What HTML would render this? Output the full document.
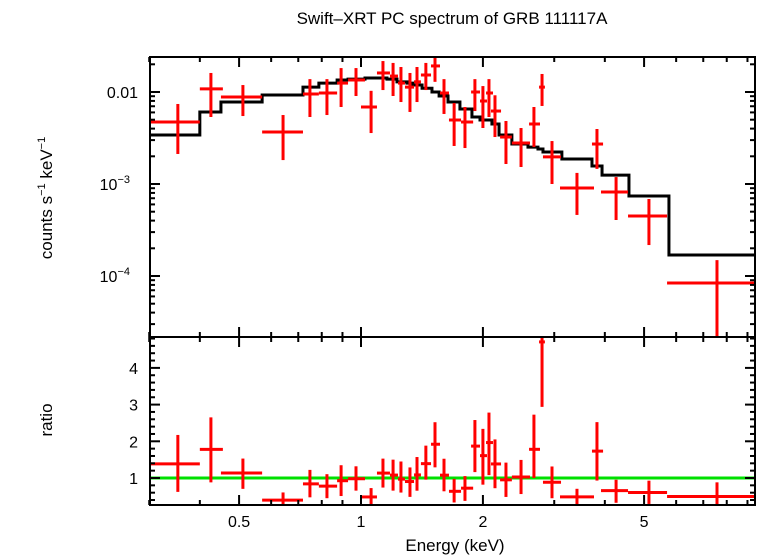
<!DOCTYPE html>
<html><head><meta charset="utf-8">
<style>
html,body{margin:0;padding:0;background:#fff;}
svg{display:block;font-family:"Liberation Sans",sans-serif;}
</style></head>
<body>
<svg id="chart" width="758" height="556" viewBox="0 0 758 556" xmlns="http://www.w3.org/2000/svg">
<text x="452" y="24" font-size="17" text-anchor="middle">Swift–XRT PC spectrum of GRB 111117A</text>
<text transform="translate(52,198) rotate(-90)" font-size="17" text-anchor="middle">counts s<tspan font-size="11" dy="-7">−1</tspan><tspan dy="7"> keV</tspan><tspan font-size="11" dy="-7">−1</tspan></text>
<text transform="translate(52,420) rotate(-90)" font-size="17" text-anchor="middle">ratio</text>
<text x="455" y="551" font-size="17" text-anchor="middle">Energy (keV)</text>
<g id="g"></g>
</svg>
<script>
// model step function
const modelEdges=[0.300,0.400,0.451,0.570,0.719,0.787,0.873,0.929,1.023,1.159,1.227,1.299,1.344,1.415,1.497,1.559,1.640,1.755,1.879,1.967,2.105,2.192,2.358,2.584,2.735,2.814,3.133,3.718,3.937,4.588,5.759,9.50];
const modelValues=[0.00341,0.00607,0.00778,0.00927,0.0113,0.0125,0.0135,0.0138,0.0142,0.0138,0.0129,0.0125,0.0119,0.0110,0.0100,0.00905,0.00778,0.00653,0.00535,0.00496,0.00449,0.00341,0.00272,0.00252,0.00240,0.00223,0.00187,0.00157,0.00125,0.000741,0.000169];
// data points
const eLo=[0.300,0.400,0.451,0.570,0.719,0.787,0.873,0.929,1.000,1.095,1.179,1.234,1.284,1.352,1.406,1.489,1.567,1.649,1.766,1.870,1.967,2.036,2.094,2.205,2.358,2.600,2.752,2.814,3.100,3.718,3.914,4.564,5.698];
const eHi=[0.400,0.456,0.570,0.719,0.787,0.873,0.929,1.023,1.095,1.179,1.234,1.284,1.352,1.406,1.489,1.567,1.649,1.766,1.892,1.967,2.047,2.118,2.217,2.358,2.614,2.767,2.845,3.118,3.761,3.960,4.564,5.698,9.50];
const eMid=[0.353,0.426,0.511,0.642,0.748,0.824,0.893,0.972,1.059,1.133,1.200,1.255,1.321,1.375,1.446,1.523,1.603,1.698,1.806,1.911,2.000,2.070,2.142,2.280,2.484,2.673,2.799,2.962,3.414,3.825,4.264,5.140,7.568];
const flux=[0.00472,0.0108,0.00883,0.00367,0.00951,0.00975,0.0125,0.0135,0.00687,0.0161,0.0149,0.0125,0.0113,0.0129,0.0153,0.0192,0.00975,0.00496,0.00472,0.0100,0.00798,0.00975,0.00621,0.00324,0.00279,0.00449,0.0113,0.00197,0.000906,0.00272,0.000819,0.000449,0.0000839];
const fluxLo=[0.00212,0.00535,0.00548,0.00182,0.00535,0.00562,0.00687,0.00905,0.00358,0.0105,0.00905,0.00778,0.00607,0.00778,0.0105,0.0129,0.00577,0.00259,0.00246,0.00621,0.00406,0.00535,0.00324,0.00165,0.00153,0.00252,0.00705,0.00100,0.000461,0.00146,0.000406,0.000217,0.0000178];
const fluxHi=[0.00741,0.0161,0.0119,0.00562,0.0138,0.0138,0.0182,0.0182,0.0103,0.0217,0.0207,0.0187,0.0161,0.0187,0.0207,0.0252,0.0138,0.00759,0.00687,0.0138,0.0116,0.0138,0.00921,0.00484,0.00406,0.00687,0.0157,0.00293,0.00132,0.00396,0.00119,0.000687,0.000149];
const xMajor=[0.5,1,2,5];
const xMinor=[0.3,0.4,0.6,0.7,0.8,0.9,3,4,6,7,8,9];
const yTopMajor=[0.01,0.001,0.0001];
const yTopLabels=["0.01","10","10"];
const yTopExp=["","−3","−4"];
const ratioMajor=[1,2,3,4];

const L=150,R=755,T1=57,B1=337,B2=505;
const X=e=>361+405*Math.log10(e);
const Y1=f=>92-92*(Math.log10(f)+2);
const Y2=r=>478-36.7*(r-1);
const NS='http://www.w3.org/2000/svg';
const g=document.getElementById('g');
function mk(tag,attrs,name){const el=document.createElementNS(NS,tag);for(const k in attrs)el.setAttribute(k,attrs[k]);


g.appendChild(el);return el;}
function modelAt(e){for(let i=0;i<modelValues.length;i++){if(e>=modelEdges[i]&&e<modelEdges[i+1])return modelValues[i];}return modelValues[modelValues.length-1];}

// clip paths
const defs=document.createElementNS(NS,'defs');
defs.innerHTML='<clipPath id="c1"><rect x="150" y="57" width="605" height="280"/></clipPath><clipPath id="c2"><rect x="150" y="337" width="605" height="168"/></clipPath>';
g.appendChild(defs);

// model line
let d='';
for(let i=0;i<modelValues.length;i++){const x0=X(modelEdges[i]),x1=X(modelEdges[i+1]),y=Y1(modelValues[i]);d+=(i===0?'M':'L')+x0+','+y+'L'+x1+','+y;}
const mp=mk('path',{d:d,fill:'none',stroke:'#000','stroke-width':3,'clip-path':'url(#c1)'},'model-line');

// green ratio line
mk('line',{x1:L,x2:R,y1:Y2(1),y2:Y2(1),stroke:'#00e000','stroke-width':3},'ratio-unity-line');

// data points
for(let i=0;i<flux.length;i++){
  const xc=X(eMid[i]),x0=X(eLo[i]),x1=X(eHi[i]);
  let el=mk('line',{x1:x0,x2:x1,y1:Y1(flux[i]),y2:Y1(flux[i]),stroke:'#f00','stroke-width':3,'clip-path':'url(#c1)'},'data-point-xerr');
  el=mk('line',{x1:xc,x2:xc,y1:Y1(fluxLo[i]),y2:Y1(fluxHi[i]),stroke:'#f00','stroke-width':3,'clip-path':'url(#c1)'},'data-point-yerr');
  const m=modelAt(eMid[i]);
  const r=flux[i]/m,rl=fluxLo[i]/m,rh=fluxHi[i]/m;
  mk('line',{x1:x0,x2:x1,y1:Y2(r),y2:Y2(r),stroke:'#f00','stroke-width':3,'clip-path':'url(#c2)'},'ratio-point-xerr');
  mk('line',{x1:xc,x2:xc,y1:Y2(rl),y2:Y2(rh),stroke:'#f00','stroke-width':3,'clip-path':'url(#c2)'},'ratio-point-yerr');
}

// frames
mk('rect',{x:L,y:T1,width:R-L,height:B1-T1,fill:'none',stroke:'#000','stroke-width':2},'top-panel-frame');
mk('rect',{x:L,y:B1,width:R-L,height:B2-B1,fill:'none',stroke:'#000','stroke-width':2},'bottom-panel-frame');

// x ticks
function xt(e,len){const x=X(e);
  [[T1,T1+len],[B1,B1-len],[B1,B1+len],[B2,B2-len]].forEach(p=>mk('line',{x1:x,x2:x,y1:p[0],y2:p[1],stroke:'#000','stroke-width':2},'x-tick'));}
xMajor.forEach(e=>xt(e,10));
xMinor.forEach(e=>xt(e,5));
xMajor.forEach(e=>{const t=mk('text',{x:X(e),y:527,'font-size':16,'text-anchor':'middle'},'x-tick-label');t.textContent=String(e);});

// top y ticks
for(let dec=-5;dec<=-1;dec++){for(let k=1;k<=9;k++){const v=k*Math.pow(10,dec);const y=Y1(v);if(y<T1||y>B1)continue;const len=k===1?10:5;
  mk('line',{x1:L,x2:L+len,y1:y,y2:y,stroke:'#000','stroke-width':2},'y-tick-top');
  mk('line',{x1:R,x2:R-len,y1:y,y2:y,stroke:'#000','stroke-width':2},'y-tick-top');}}
yTopMajor.forEach((v,i)=>{const t=mk('text',{x:yTopExp[i]?130:138,y:Y1(v)+6,'font-size':16,'text-anchor':'end'},'y-tick-label-top');
  t.textContent=yTopLabels[i];
  if(yTopExp[i]){const s=document.createElementNS(NS,'tspan');s.setAttribute('font-size','11');s.setAttribute('dy','-7');s.textContent=yTopExp[i];t.appendChild(s);}});

// ratio y ticks
for(let r=0.4;r<=4.81;r+=0.2){const y=Y2(r);const major=Math.abs(r-Math.round(r))<0.01;const len=major?10:5;
  mk('line',{x1:L,x2:L+len,y1:y,y2:y,stroke:'#000','stroke-width':2},'y-tick-ratio');
  mk('line',{x1:R,x2:R-len,y1:y,y2:y,stroke:'#000','stroke-width':2},'y-tick-ratio');}
ratioMajor.forEach(v=>{const t=mk('text',{x:138,y:Y2(v)+6,'font-size':16,'text-anchor':'end'},'y-tick-label-ratio');t.textContent=String(v);});
</script>
</body></html>
